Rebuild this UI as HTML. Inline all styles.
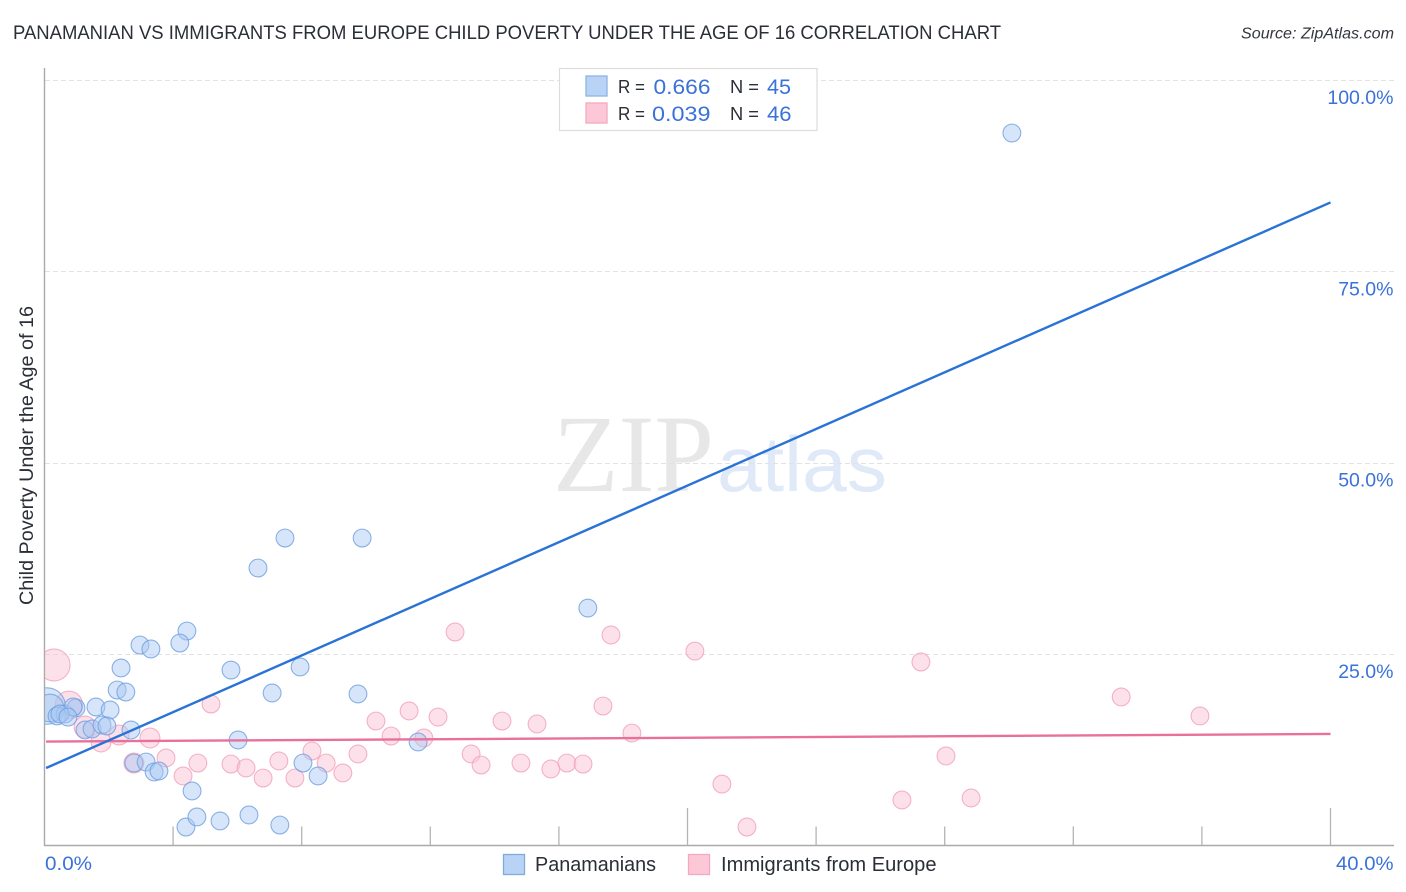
<!DOCTYPE html>
<html lang="en">
<head>
<meta charset="utf-8">
<title>Panamanian vs Immigrants from Europe Child Poverty Correlation Chart</title>
<style>
html,body{margin:0;padding:0;background:#fff;width:1406px;height:892px;overflow:hidden}
svg{display:block;font-family:"Liberation Sans",sans-serif}
</style>
</head>
<body>
<svg id="chart" width="1406" height="892" viewBox="0 0 1406 892">
  <defs>
    <clipPath id="plotClip"><rect x="45" y="60" width="1349" height="785"/></clipPath>
  </defs>
  <text x="13" y="39" font-size="19" fill="#2a2e36" textLength="988" lengthAdjust="spacingAndGlyphs">PANAMANIAN VS IMMIGRANTS FROM EUROPE CHILD POVERTY UNDER THE AGE OF 16 CORRELATION CHART</text>
  <text x="1241" y="38.500" font-size="15.500" font-style="italic" fill="#33373f" textLength="153" lengthAdjust="spacingAndGlyphs">Source: ZipAtlas.com</text>
  <text transform="translate(33,605) rotate(-90)" font-size="19" fill="#2a2e36" textLength="299" lengthAdjust="spacingAndGlyphs">Child Poverty Under the Age of 16</text>

  <g>
    <text x="553" y="491" font-family="'Liberation Serif',serif" font-size="110" fill="#e7e7e7" textLength="161" lengthAdjust="spacingAndGlyphs">ZIP</text>
    <text x="717" y="491" font-size="78" fill="#e0e9f8" textLength="170" lengthAdjust="spacingAndGlyphs">atlas</text>
  </g>

  <g id="grid"></g>
  <g id="axes"></g>
  <g id="pinkPoints" clip-path="url(#plotClip)"></g>
  <g id="bluePoints" clip-path="url(#plotClip)"></g>
  <g id="trends"></g>
  <g id="yLabels"></g>
  <g id="xLabels"></g>

  <g>
    <rect x="559.500" y="68.500" width="257.500" height="62" fill="#fff" stroke="#dcdcdc" stroke-width="1.200"/>
    <rect x="586" y="76" width="21" height="20" fill="#b9d3f6" stroke="#8cb4e6" stroke-width="1.300"/>
    <rect x="586" y="103" width="21" height="20" fill="#fcc8d8" stroke="#f3a9c0" stroke-width="1.300"/>
    <text x="618" y="93" font-size="18.500" fill="#2a2e36" textLength="27" lengthAdjust="spacingAndGlyphs">R =</text>
    <text x="653.500" y="94" font-size="21" fill="#3a72d8" textLength="57" lengthAdjust="spacingAndGlyphs">0.666</text>
    <text x="730" y="93" font-size="18.500" fill="#2a2e36" textLength="29" lengthAdjust="spacingAndGlyphs">N =</text>
    <text x="767" y="94" font-size="21" fill="#3a72d8" textLength="24" lengthAdjust="spacingAndGlyphs">45</text>
    <text x="618" y="120" font-size="18.500" fill="#2a2e36" textLength="27" lengthAdjust="spacingAndGlyphs">R =</text>
    <text x="652" y="121" font-size="21" fill="#3a72d8" textLength="58.500" lengthAdjust="spacingAndGlyphs">0.039</text>
    <text x="730" y="120" font-size="18.500" fill="#2a2e36" textLength="29" lengthAdjust="spacingAndGlyphs">N =</text>
    <text x="767" y="121" font-size="21" fill="#3a72d8" textLength="24.500" lengthAdjust="spacingAndGlyphs">46</text>
  </g>

  <g>
    <g>
      <rect x="503.500" y="854.500" width="21" height="20" fill="#b9d3f6" stroke="#7fabdf" stroke-width="1.300"/>
      <text x="535" y="871" font-size="20" fill="#2a2e36" textLength="121" lengthAdjust="spacingAndGlyphs">Panamanians</text>
    </g>
    <g>
      <rect x="688.500" y="854.500" width="21" height="20" fill="#fcc8d8" stroke="#f3a9c0" stroke-width="1.300"/>
      <text x="721" y="871" font-size="20" fill="#2a2e36" textLength="215.500" lengthAdjust="spacingAndGlyphs">Immigrants from Europe</text>
    </g>
  </g>
</svg>
<script>
const blueX = [0.08,0.17,0.64,30.09,7.48,9.88,6.64,16.90,4.43,2.97,3.31,4.21,5.80,7.95,2.38,2.26,2.53,7.08,9.75,1.60,2.04,0.98,0.89,0.39,0.48,0.73,1.26,1.48,1.79,1.94,2.69,6.02,11.62,2.78,3.16,3.41,3.56,4.59,8.04,8.51,4.40,4.74,5.46,6.36,7.32];
const blueY = [18.2,17.94,17.16,93.07,40.15,40.15,36.23,31.0,28.0,26.17,25.65,26.43,22.9,23.3,23.17,20.29,20.03,19.9,19.77,18.07,17.68,17.94,18.07,16.9,17.16,16.76,15.07,15.2,15.72,15.59,15.07,13.76,13.5,10.75,10.88,9.58,9.71,7.1,10.75,9.06,2.39,3.7,3.18,3.96,2.65];
const blueWeight = [4.2,2.4,1,1,1,1,1,1,1,1,1,1,1,1,1,1,1,1,1,1,1,1,1,1,1,1,1,1,1,1,1,1,1,1,1,1,1,1,1,1,1,1,1,1,1];

const pinkX = [0.30,0.76,1.26,1.76,2.32,3.28,5.18,2.78,3.78,4.31,4.77,5.80,6.27,6.80,7.29,7.79,8.32,8.76,9.28,9.75,10.31,10.78,11.34,11.8,12.24,12.77,13.27,13.58,14.23,14.82,15.32,15.75,16.25,16.75,17.37,17.62,18.27,20.23,21.07,21.85,26.67,27.26,28.04,28.82,33.49,35.94];
const pinkY = [23.56,18.33,15.46,13.5,14.41,14.02,18.46,10.75,11.41,9.06,10.75,10.62,10.1,8.79,11.02,8.79,12.32,10.75,9.45,11.93,16.24,14.28,17.55,14.02,16.76,27.87,11.93,10.49,16.24,10.75,15.85,9.97,10.75,10.62,18.2,27.48,14.67,25.38,8.0,2.39,5.92,23.95,11.67,6.18,19.38,16.9];
const pinkWeight = [3.2,2.4,1.5,1.25,1.25,1.25,1,1.25,1,1,1,1,1,1,1,1,1,1,1,1,1,1,1,1,1,1,1,1,1,1,1,1,1,1,1,1,1,1,1,1,1,1,1,1,1,1];

const blueTrendEnds = [10.1, 84.0];
const pinkTrendEnds = [13.56, 14.55];
const trendXDomain = [0.05, 40];

const yTicks = [25, 50, 75, 100];
const yTickLabels = ["25.0%", "50.0%", "75.0%", "100.0%"];
const xTicks = [4, 8, 12, 16, 20, 24, 28, 32, 36, 40];
const xMajorTicks = [20, 40];
const xEndLabels = ["0.0%", "40.0%"];

const NS = "http://www.w3.org/2000/svg";
const xPx = v => 44.5 + v * 32.15;
const yPx = v => 845.3 - v * 7.653;
const rPx = w => 8.9 * Math.sqrt(w);

function mk(tag, attrs, parent) {
  const el = document.createElementNS(NS, tag);
  for (const k in attrs) el.setAttribute(k, attrs[k]);
  parent.appendChild(el);
  return el;
}

const grid = document.getElementById("grid");
yTicks.forEach(t => {
  const gy = Math.round(yPx(t)) + 0.5;
  const l = mk("line", {x1: 45, x2: 1394, y1: gy, y2: gy, stroke: "#e2e2e2", "stroke-width": 1, "stroke-dasharray": "5 3"}, grid);
  
  
});

const axes = document.getElementById("axes");
const yAxis = mk("line", {x1: 44.5, x2: 44.5, y1: 68, y2: 846, stroke: "#aaaaaa", "stroke-width": 1.4}, axes);


const xAxis = mk("line", {x1: 44, x2: 1394, y1: 845.5, y2: 845.5, stroke: "#aaaaaa", "stroke-width": 1.4}, axes);


xTicks.forEach(t => {
  const top = xMajorTicks.includes(t) ? 808 : 826.5;
  const l = mk("line", {x1: xPx(t), x2: xPx(t), y1: top, y2: 845, stroke: "#b4b4b4", "stroke-width": 1.3}, axes);
  
  
});

function drawPoints(group, xs, ys, ws, fill, stroke, opacity, name) {
  xs.forEach((x, i) => {
    const c = mk("circle", {cx: xPx(x), cy: yPx(ys[i]), r: rPx(ws[i]), fill: fill, "fill-opacity": opacity, stroke: stroke, "stroke-opacity": 0.8, "stroke-width": 1.1}, group);
    
    
  });
}
drawPoints(document.getElementById("pinkPoints"), pinkX, pinkY, pinkWeight, "#fbc4d6", "#f2a0ba", 0.5, "point-immigrants-from-europe");
drawPoints(document.getElementById("bluePoints"), blueX, blueY, blueWeight, "#a9c9f2", "#6f9fe0", 0.48, "point-panamanians");

const trends = document.getElementById("trends");
const pinkLine = mk("line", {x1: xPx(trendXDomain[0]), x2: xPx(trendXDomain[1]), y1: yPx(pinkTrendEnds[0]), y2: yPx(pinkTrendEnds[1]), stroke: "#e9709a", "stroke-width": 2.4}, trends);


const blueLine = mk("line", {x1: xPx(trendXDomain[0]), x2: xPx(trendXDomain[1]), y1: yPx(blueTrendEnds[0]), y2: yPx(blueTrendEnds[1]), stroke: "#2a73d6", "stroke-width": 2.4}, trends);



const yLabels = document.getElementById("yLabels");
yTicks.forEach((t, i) => {
  const tx = mk("text", {x: 1393.5, y: yPx(t) + 24, "text-anchor": "end", "font-size": 19.5, fill: "#3a72d8"}, yLabels);
  tx.textContent = yTickLabels[i];
  
  
});

const xLabels = document.getElementById("xLabels");
const x0Label = mk("text", {x: 45, y: 870, "font-size": 19.5, fill: "#3a72d8", textLength: 47, lengthAdjust: "spacingAndGlyphs"}, xLabels);
x0Label.textContent = xEndLabels[0];


const x1Label = mk("text", {x: 1336, y: 870, "font-size": 19.5, fill: "#3a72d8", textLength: 57.5, lengthAdjust: "spacingAndGlyphs"}, xLabels);
x1Label.textContent = xEndLabels[1];


</script>
</body>
</html>
